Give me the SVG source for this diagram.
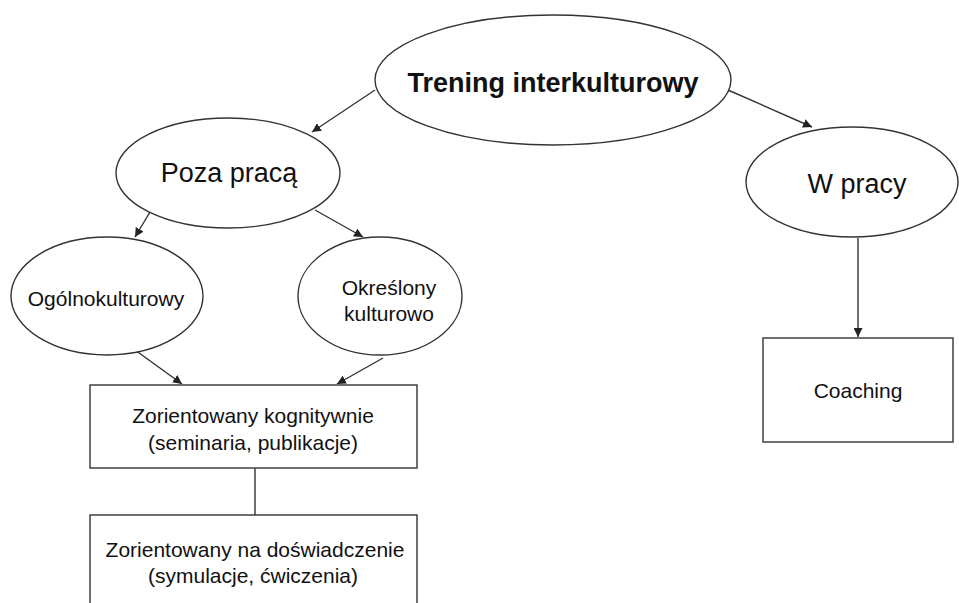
<svg xmlns="http://www.w3.org/2000/svg" width="959" height="603" viewBox="0 0 959 603">
<style>
.shape{fill:#fff;stroke:#333;stroke-width:1.4}
.t{font-family:"Liberation Sans",Arial,sans-serif;fill:#111;text-anchor:middle}
.big{font-size:27px}
.bold{font-weight:bold}
.small{font-size:21px}
.conn{stroke:#333;stroke-width:1.4;fill:none}
</style>
<defs>
<marker id="arr" viewBox="0 0 10 10" refX="10" refY="5" markerWidth="9" markerHeight="9" markerUnits="userSpaceOnUse" orient="auto">
<path d="M0,0 L10,5 L0,10 Z" fill="#222"/>
</marker>
</defs>
<rect width="959" height="603" fill="#fff"/>
<g id="connectors">
<line class="conn" x1="375" y1="90" x2="312" y2="132" marker-end="url(#arr)"/>
<line class="conn" x1="728" y1="90" x2="812" y2="127" marker-end="url(#arr)"/>
<line class="conn" x1="150" y1="212" x2="135" y2="237" marker-end="url(#arr)"/>
<line class="conn" x1="315" y1="210" x2="363" y2="237" marker-end="url(#arr)"/>
<line class="conn" x1="135" y1="350" x2="182" y2="384" marker-end="url(#arr)"/>
<line class="conn" x1="383" y1="358" x2="337" y2="384" marker-end="url(#arr)"/>
<line class="conn" x1="858" y1="238" x2="858" y2="337" marker-end="url(#arr)"/>
<line class="conn" x1="255" y1="468" x2="255" y2="515"/>
</g>
<g id="trening">
<ellipse class="shape" cx="553" cy="80" rx="178" ry="65"/>
<text class="t big bold" x="553" y="92">Trening interkulturowy</text>
</g>
<g id="poza">
<ellipse class="shape" cx="228" cy="173" rx="112" ry="55"/>
<text class="t big" x="229" y="182">Poza pracą</text>
</g>
<g id="wpracy">
<ellipse class="shape" cx="852" cy="182" rx="106" ry="55"/>
<text class="t big" x="857" y="193">W pracy</text>
</g>
<g id="ogolno">
<ellipse class="shape" cx="107" cy="296" rx="96" ry="59"/>
<text class="t small" x="106" y="306">Ogólnokulturowy</text>
</g>
<g id="okreslony">
<ellipse class="shape" cx="380" cy="296" rx="82" ry="59"/>
<text class="t small" x="389" y="295">Określony</text>
<text class="t small" x="389" y="321">kulturowo</text>
</g>
<g id="kognitywnie">
<rect class="shape" x="90" y="385" width="327" height="83"/>
<text class="t small" x="253" y="423">Zorientowany kognitywnie</text>
<text class="t small" x="253" y="450">(seminaria, publikacje)</text>
</g>
<g id="doswiadczenie">
<rect class="shape" x="90" y="515" width="327" height="110"/>
<text class="t small" x="255" y="557">Zorientowany na doświadczenie</text>
<text class="t small" x="253" y="583">(symulacje, ćwiczenia)</text>
</g>
<g id="coaching">
<rect class="shape" x="763" y="338" width="190" height="104"/>
<text class="t small" x="858" y="398">Coaching</text>
</g>
</svg>
